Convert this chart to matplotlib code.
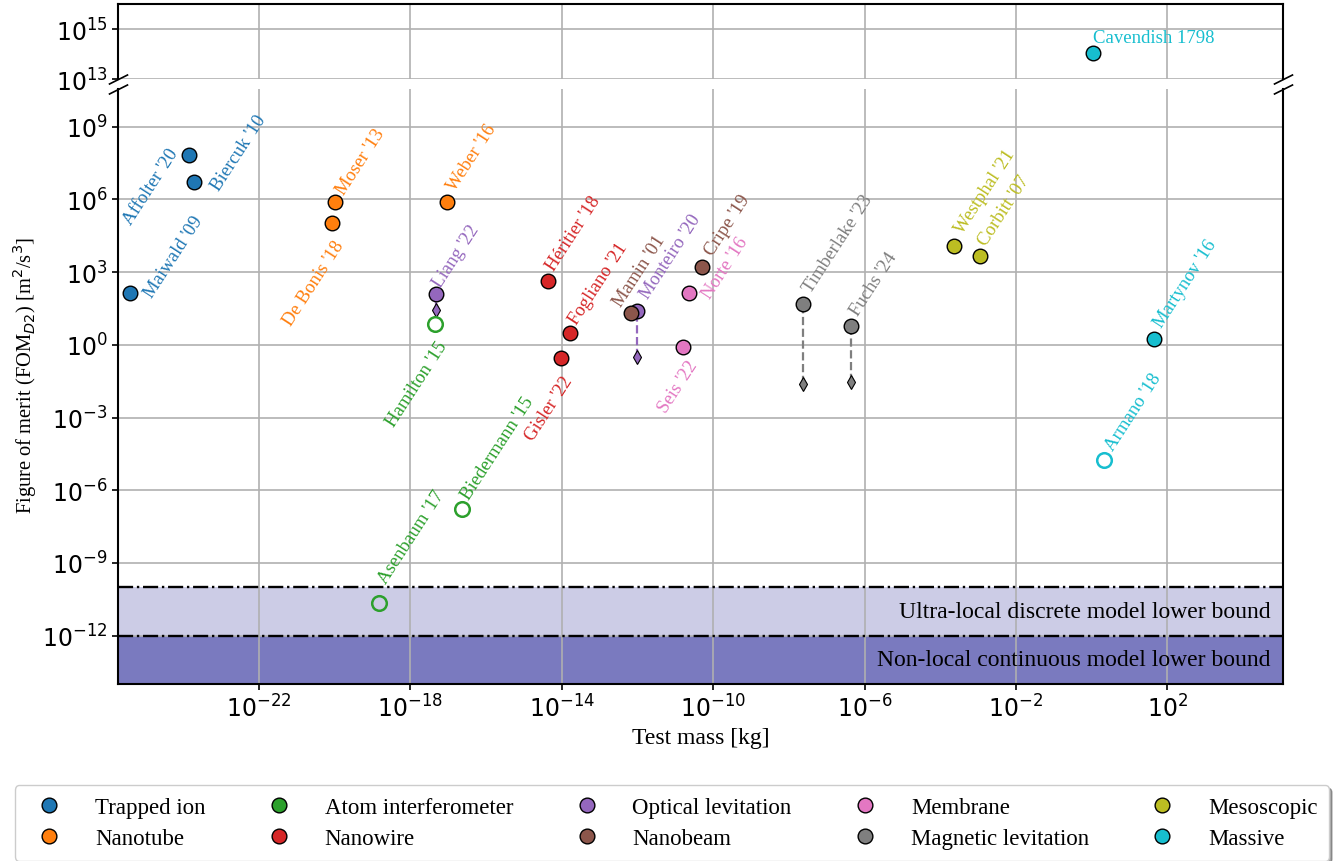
import matplotlib
matplotlib.use("Agg")
import matplotlib.pyplot as plt
from matplotlib.lines import Line2D
from matplotlib.transforms import blended_transform_factory
import numpy as np

# ---------------- data ----------------
categories = ['Trapped ion', 'Nanotube', 'Atom interferometer', 'Nanowire',
              'Optical levitation', 'Nanobeam', 'Membrane',
              'Magnetic levitation', 'Mesoscopic', 'Massive']
category_colors = ['tab:blue', 'tab:orange', 'tab:green', 'tab:red', 'tab:purple',
                   'tab:brown', 'tab:pink', 'tab:gray', 'tab:olive', 'tab:cyan']

names = ["Maiwald '09", "Affolter '20", "Biercuk '10",
         "Moser '13", "De Bonis '18", "Weber '16",
         "Asenbaum '17", "Biedermann '15", "Hamilton '15",
         "Héritier '18", "Fogliano '21", "Gisler '22",
         "Liang '22", "Monteiro '20",
         "Mamin '01", "Cripe '19",
         "Norte '16", "Seis '22",
         "Timberlake '23", "Fuchs '24",
         "Westphal '21", "Corbitt '07",
         "Cavendish 1798", "Martynov '16", "Armano '18"]
name_category = ['Trapped ion'] * 3 + ['Nanotube'] * 3 + ['Atom interferometer'] * 3 + \
                ['Nanowire'] * 3 + ['Optical levitation'] * 2 + ['Nanobeam'] * 2 + \
                ['Membrane'] * 2 + ['Magnetic levitation'] * 2 + ['Mesoscopic'] * 2 + \
                ['Massive'] * 3
test_mass = [3.9e-26, 1.45e-24, 1.9e-24,
             1.0e-20, 8.3e-21, 9.3e-18,
             1.45e-19, 2.3e-17, 4.6e-18,
             4.2e-15, 1.6e-14, 9.5e-15,
             4.7e-18, 1.0e-12,
             6.9e-13, 5.2e-11,
             2.3e-11, 1.6e-11,
             2.4e-8, 4.3e-7,
             2.3e-4, 1.1e-3,
             1.07, 43.6, 2.1]
fom = [135, 6.6e7, 5.4e6,
       7.8e5, 1.07e5, 8.1e5,
       2.2e-11, 1.66e-7, 7.1,
       437, 3.0, 0.28,
       123, 26,
       20.4, 1620,
       132, 0.85,
       48, 5.9,
       1.15e4, 4.7e3,
       1.07e14, 1.8, 1.8e-5]
lower_bound = {"Liang '22": 27.5, "Monteiro '20": 0.31,
               "Timberlake '23": 0.025, "Fuchs '24": 0.028}
hollow = ["Asenbaum '17", "Biedermann '15", "Hamilton '15", "Armano '18"]

ultra_local_bound = 1e-10
non_local_bound = 1e-12
band_labels = ['Ultra-local discrete model lower bound',
               'Non-local continuous model lower bound']

# label placement (pixel offsets from point: dx right, dy up, side)
label_pos = {
    "Maiwald '09": (18, -2.5, 'l'), "Affolter '20": (-14.5, 5.5, 'r'),
    "Biercuk '10": (21.5, -7, 'l'), "Moser '13": (5.5, 10, 'l'),
    "De Bonis '18": (8.6, -18.7, 'r'), "Weber '16": (4, 13, 'l'),
    "Asenbaum '17": (4, 21, 'l'), "Biedermann '15": (3, 12, 'l'),
    "Hamilton '15": (7.7, -18.7, 'r'), "Héritier '18": (3, 12, 'l'),
    "Fogliano '21": (3, 11, 'l'), "Gisler '22": (8, -19, 'r'),
    "Liang '22": (1, 9, 'l'), "Monteiro '20": (6.5, 13.7, 'l'),
    "Mamin '01": (-14, 9, 'l'), "Cripe '19": (6.5, 14, 'l'),
    "Norte '16": (17, -3, 'l'), "Seis '22": (10.6, -15, 'r'),
    "Timberlake '23": (4, 14, 'l'), "Fuchs '24": (3.5, 13, 'l'),
    "Westphal '21": (5, 14.7, 'l'), "Corbitt '07": (3, 12.5, 'l'),
    "Martynov '16": (4, 13.7, 'l'), "Armano '18": (5, 11.5, 'l'),
}

# ---------------- figure ----------------
W, H = 1334, 862
fig = plt.figure(figsize=(W / 100, H / 100), dpi=100)
ax_top = fig.add_axes([118 / W, 1 - 80 / H, 1165 / W, 75 / H])
ax = fig.add_axes([118 / W, 1 - 685 / H, 1165 / W, 595 / H])

SERIF = 'Liberation Serif'
FS = 17
LFS = 16.5
AFS = 13.5
PX = 0.72  # points per pixel

for a in (ax, ax_top):
    a.set_xscale('log')
    a.set_yscale('log')
    a.set_xlim(10 ** -25.725, 10 ** 5.055)
    a.set_axisbelow(True)
    a.grid(True, which='major', color='#b0b0b0', lw=1.2)
    for s in a.spines.values():
        s.set_linewidth(1.5)

ax.set_ylim(1e-14, 10 ** 10.56)
ax_top.set_ylim(1e13, 1e16)

ax.set_xticks([10.0 ** k for k in range(-22, 3, 4)])
ax.set_yticks([10.0 ** k for k in range(-12, 10, 3)])
ax_top.set_xticks([10.0 ** k for k in range(-22, 3, 4)])
ax_top.set_yticks([1e13, 1e15])
for a in (ax, ax_top):
    a.minorticks_off()
    a.tick_params(labelsize=FS, width=1.2, length=4)
ax_top.tick_params(axis='x', bottom=False, labelbottom=False)
ax_top.spines['bottom'].set_visible(False)
ax.spines['top'].set_visible(False)

# broken axis marks
d = .5
kw = dict(marker=[(-1, -d), (1, d)], markersize=14, linestyle='none',
          color='k', mec='k', mew=1.2, clip_on=False)
ax_top.plot([0, 1], [0, 0], transform=ax_top.transAxes, **kw)
ax.plot([0, 1], [1, 1], transform=ax.transAxes, **kw)

# bands
ax.axhspan(1e-14, ultra_local_bound, color='#cccce6', zorder=0.2, lw=0)
ax.axhspan(1e-14, non_local_bound, color='#7a7abf', zorder=0.3, lw=0)
ax.axhline(ultra_local_bound, color='k', ls='-.', lw=1.7, zorder=0.6)
ax.axhline(non_local_bound, color='k', ls='-.', lw=1.7, zorder=0.6)
tr = blended_transform_factory(ax.transAxes, ax.transData)
ax.text(0.989, np.sqrt(ultra_local_bound * non_local_bound), band_labels[0], transform=tr,
        ha='right', va='center', fontsize=FS, family=SERIF)
ax.text(0.989, np.sqrt(non_local_bound * 1e-14), band_labels[1], transform=tr,
        ha='right', va='center', fontsize=FS, family=SERIF)

# points
cmap = dict(zip(categories, category_colors))
for nm, cat, m, f in zip(names, name_category, test_mass, fom):
    c = cmap[cat]
    target = ax_top if f > 1e12 else ax
    if nm in lower_bound:
        lb = lower_bound[nm]
        target.plot([m, m], [lb, f], ls='--', color=c, lw=1.6, zorder=2)
        target.plot([m], [lb], marker='d', ms=7, color=c, mec='k', mew=0.8,
                    ls='none', zorder=3)
    if nm in hollow:
        target.plot([m], [f], marker='o', ms=10.5, mfc='none', mec=c, mew=1.8,
                    ls='none', zorder=4)
    else:
        target.plot([m], [f], marker='o', ms=10.5, color=c, mec='k', mew=1.0,
                    ls='none', zorder=4)
    if nm == "Cavendish 1798":
        target.annotate(nm, (m, f), xytext=(0, 11 * PX), textcoords='offset points',
                        ha='left', va='baseline', color=c, fontsize=AFS, family=SERIF)
    else:
        dx, dy, side = label_pos[nm]
        target.annotate(nm, (m, f), xytext=(dx * PX, dy * PX), textcoords='offset points',
                        rotation=57, rotation_mode='anchor',
                        ha='left' if side == 'l' else 'right', va='center',
                        color=c, fontsize=AFS, family=SERIF, zorder=5)

ax.set_xlabel('Test mass [kg]', fontsize=FS, family=SERIF)
fig.text(25 / W, 1 - 375 / H, 'Figure of merit (FOM$_{D2}$) [m$^2$/s$^3$]',
         rotation=90, ha='center', va='center', fontsize=14.8, family=SERIF)

handles = [Line2D([], [], marker='o', ls='none', ms=10.6, color=c, mec='k', mew=1.0)
           for c in category_colors]
fig.legend(handles, categories, loc='center', bbox_to_anchor=(672 / W, 1 - 824 / H),
           ncol=5, prop={'family': SERIF, 'size': LFS}, shadow=True, borderpad=0.5,
           handletextpad=1.0, columnspacing=2.2, labelspacing=0.45)

fig.savefig('out.png', dpi=100)
